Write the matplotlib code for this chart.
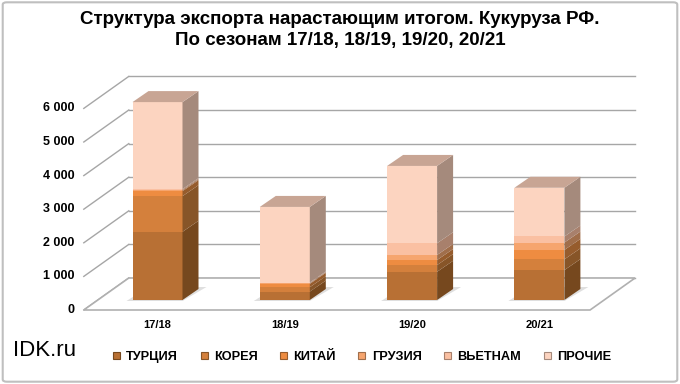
import matplotlib
matplotlib.use('Agg')
import matplotlib.pyplot as plt
from matplotlib.patches import Polygon, Patch, FancyBboxPatch
import numpy as np

# data (thousand t)
seasons = ['17/18', '18/19', '19/20', '20/21']
names = ['ТУРЦИЯ', 'КОРЕЯ', 'КИТАЙ', 'ГРУЗИЯ', 'ВЬЕТНАМ', 'ПРОЧИЕ']
turkey = [2030, 250, 840, 890]
korea = [1060, 130, 200, 320]
china = [150, 100, 150, 280]
georgia = [30, 20, 150, 220]
vietnam = [30, 20, 350, 180]
other = [2590, 2250, 2300, 1450]
yticks = [0, 1000, 2000, 3000, 4000, 5000, 6000]

front = ['#B87034', '#D4803C', '#EE8C41', '#F6A56E', '#FAC0A2', '#FCD4C0']
side = ['#76481E', '#875528', '#965C2D', '#A06E4B', '#A8806C', '#A58A7C']
top_col = '#C8A594'

plt.rcParams['font.family'] = ['Liberation Sans', 'DejaVu Sans']

fig = plt.figure(figsize=(6.8, 3.84), dpi=100)
ax = fig.add_axes([0, 0, 1, 1])
ax.axis('off')

# pixel -> data scale
sx = 1 / 127.3          # x units per px
sy = 1000 / 33.6        # value units per px
ax.set_xlim(-157.5 * sx, (680 - 157.5) * sx)
ax.set_ylim(-84 * sy, 300 * sy)

w = 50 * sx
ddx, ddy = 16 * sx, 11 * sy          # bar depth
fx, fy = -14 * sx, -10 * sy          # floor front edge
bx, by = 31 * sx, 22 * sy            # back wall
wl, wr = -0.469, 3.508               # wall extent (bar plane)

grid_c = '#A6A6A6'
# back wall and side wall grid
for v in yticks:
    ax.plot([wl + bx, wr + bx], [v + by, v + by], color=grid_c, lw=1, zorder=1)
    ax.plot([wl + fx, wl + bx], [v + fy, v + by], color=grid_c, lw=1, zorder=1)
    ax.text(wl + fx - 9 * sx, v + fy, '{:,}'.format(v).replace(',', ' '),
            ha='right', va='center', fontsize=9, fontweight='bold')

# floor
floor = Polygon([(wl + fx, fy), (wr + fx, fy), (wr + bx, by), (wl + bx, by)],
                closed=True, fc='white', ec='#B0B0B0', lw=1.2, zorder=1.5)
ax.add_patch(floor)

series = [turkey, korea, china, georgia, vietnam, other]
x = np.arange(len(seasons))
for i in x:
    x0, x1 = i - w / 2, i + w / 2
    # shadow
    ax.add_patch(Polygon([(x0 - 6 * sx, -1 * sy), (x1, -1 * sy), (x1 + ddx + 8 * sx, ddy + 2 * sy),
                          (x0 + ddx, ddy + 2 * sy)], closed=True, fc='#808080', alpha=0.25,
                         ec='none', zorder=2))
    bottom = 0
    for k, s in enumerate(series):
        v = s[i]
        ax.bar(i, v, w, bottom=bottom, color=front[k], zorder=3, linewidth=0)
        ax.add_patch(Polygon([(x1, bottom), (x1 + ddx, bottom + ddy),
                              (x1 + ddx, bottom + v + ddy), (x1, bottom + v)],
                             closed=True, fc=side[k], ec='none', zorder=3))
        bottom += v
    ax.add_patch(Polygon([(x0, bottom), (x0 + ddx, bottom + ddy),
                          (x1 + ddx, bottom + ddy), (x1, bottom)],
                         closed=True, fc=top_col, ec='none', zorder=3))
    ax.text(i, -744, seasons[i], ha='center', va='center', fontsize=8,
            fontweight='bold')

fig.text(0.5, 0.948, 'Структура экспорта нарастающим итогом. Кукуруза РФ.',
         ha='center', va='center', fontsize=13.5, fontweight='bold')
fig.text(0.5, 0.895, 'По сезонам 17/18, 18/19, 19/20, 20/21',
         ha='center', va='center', fontsize=13.5, fontweight='bold')

fig.text(13 / 680, 1 - 350 / 384, 'IDK.ru', ha='left', va='center', fontsize=16)

handles = [Patch(fc=front[k], ec=side[k], lw=0.8) for k in range(len(names))]
fig.legend(handles, names, ncol=6, loc='center', bbox_to_anchor=(362 / 680, 1 - 357 / 384),
           frameon=False, prop={'weight': 'bold', 'size': 9.2},
           handlelength=0.55, handleheight=0.55, handletextpad=0.5, columnspacing=1.75)

fig.patches.append(FancyBboxPatch((0.004, 0.006), 0.992, 0.988, boxstyle='round,pad=0,rounding_size=0.006',
                                  transform=fig.transFigure, fill=False, ec='#BFBFBF', lw=1.5))

fig.savefig('out.png', dpi=100)
